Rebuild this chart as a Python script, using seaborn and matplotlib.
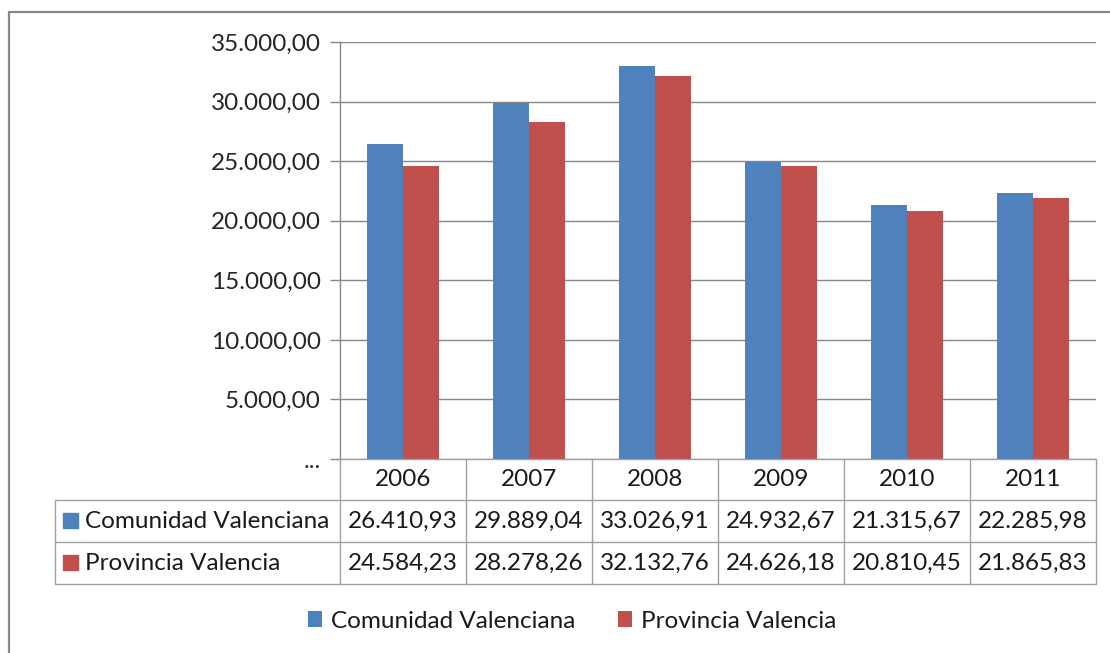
import pandas as pd
import matplotlib.pyplot as plt
import seaborn as sns
from matplotlib.lines import Line2D
from matplotlib.patches import Patch
from matplotlib.ticker import FuncFormatter

# Data
years = ["2006", "2007", "2008", "2009", "2010", "2011"]
series = ["Comunidad Valenciana", "Provincia Valencia"]
comunidad = [26410.93, 29889.04, 33026.91, 24932.67, 21315.67, 22285.98]
provincia = [24584.23, 28278.26, 32132.76, 24626.18, 20810.45, 21865.83]
colors = ["#4F81BD", "#C0504D"]

df = pd.DataFrame({
    "year": years * 2,
    "serie": [series[0]] * len(years) + [series[1]] * len(years),
    "value": comunidad + provincia,
})


def es_fmt(v, decimals=2):
    s = f"{v:,.{decimals}f}"
    return s.replace(",", "X").replace(".", ",").replace("X", ".")


sns.set_style("white")
plt.rcParams["font.family"] = ["Lato", "DejaVu Sans"]
FS = 17.5
W, H = 1110, 653
fig = plt.figure(figsize=(W / 100, H / 100), dpi=100)


def fx(x):
    return x / W


def fy(y):
    return 1 - y / H


ax_l, ax_r, ax_t, ax_b = 340, 1096, 42, 459
ax = fig.add_axes([fx(ax_l), fy(ax_b), (ax_r - ax_l) / W, (ax_b - ax_t) / H])

sns.barplot(data=df, x="year", y="value", hue="serie", palette=colors,
            width=0.565, gap=0, saturation=1, linewidth=0, ax=ax, legend=False)

ax.set_xlim(-0.5, len(years) - 0.5)
ax.set_ylim(0, 35000)
ax.set_yticks(range(0, 35001, 5000))
ax.yaxis.set_major_formatter(FuncFormatter(lambda v, p: "..." if v == 0 else es_fmt(v)))
ax.tick_params(axis="y", left=True, length=7, width=1, color="#868686",
               labelsize=FS, labelcolor="#262626", pad=7)
ax.tick_params(axis="x", bottom=False, labelbottom=False)
ax.set_xlabel("")
ax.set_ylabel("")
ax.grid(axis="y", color="#868686", linewidth=1)
ax.set_axisbelow(True)
for s in ["top", "right", "bottom"]:
    ax.spines[s].set_visible(False)
ax.spines["left"].set_color("#868686")
ax.spines["left"].set_linewidth(1)

# Outer chart border
border = "#888888"
fig.add_artist(Line2D([fx(9), fx(W)], [fy(12), fy(12)], color=border, lw=1.6))
fig.add_artist(Line2D([fx(9), fx(9)], [fy(12), fy(H)], color=border, lw=1.6))

# Data table below the axis
grid_c = "#A0A0A0"
cw = (ax_r - ax_l) / len(years)
fig.add_artist(Line2D([fx(ax_l), fx(ax_r)], [fy(459), fy(459)], color=grid_c, lw=1))
for yy in [500, 542, 584]:
    fig.add_artist(Line2D([fx(55), fx(ax_r)], [fy(yy), fy(yy)], color=grid_c, lw=1))
fig.add_artist(Line2D([fx(55), fx(55)], [fy(500), fy(584)], color=grid_c, lw=1))
for i in range(len(years) + 1):
    xx = ax_l + i * cw
    fig.add_artist(Line2D([fx(xx), fx(xx)], [fy(459), fy(584)], color=grid_c, lw=1))

tc = "#1a1a1a"
for i, yr in enumerate(years):
    xc = ax_l + (i + 0.5) * cw
    fig.text(fx(xc), fy(480), yr, ha="center", va="center", fontsize=FS, color=tc)
    fig.text(fx(xc), fy(521), es_fmt(comunidad[i]), ha="center", va="center", fontsize=FS, color=tc)
    fig.text(fx(xc), fy(563), es_fmt(provincia[i]), ha="center", va="center", fontsize=FS, color=tc)

for name, col, yc in zip(series, colors, [521, 563]):
    fig.add_artist(plt.Rectangle((fx(63), fy(yc + 7)), 15 / W, 15 / H, color=col,
                                 transform=fig.transFigure))
    fig.text(fx(85), fy(yc), name, ha="left", va="center", fontsize=FS, color=tc)

# Legend
handles = [Patch(facecolor=c, edgecolor="none") for c in colors]
fig.legend(handles, series, loc="center", bbox_to_anchor=(fx(572), fy(621)), ncol=2,
           frameon=False, fontsize=FS, handlelength=0.6, handleheight=0.6,
           handletextpad=0.35, columnspacing=1.75, labelcolor=tc)

fig.savefig("out.png", dpi=100)
